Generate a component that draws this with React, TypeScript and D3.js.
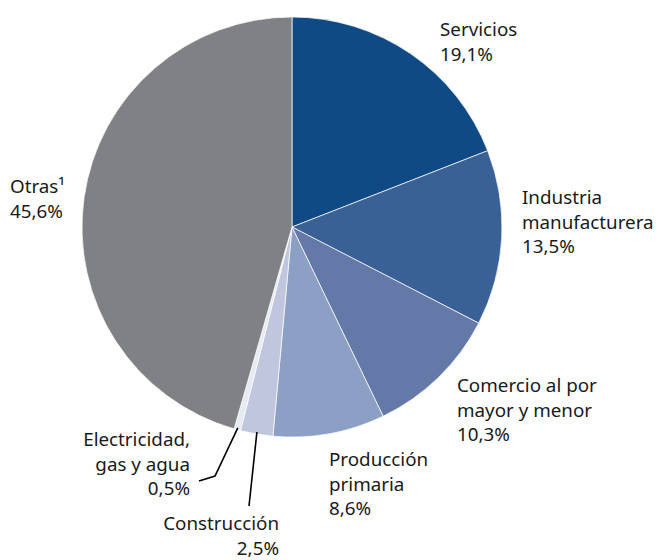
import React from "react";
import * as d3 from "d3";

// shares of total, clockwise from 12 o'clock
const sectors = [
  "Servicios",
  "Industria manufacturera",
  "Comercio al por mayor y menor",
  "Producción primaria",
  "Construcción",
  "Electricidad, gas y agua",
  "Otras",
];
const shares = [19.1, 13.5, 10.3, 8.6, 2.5, 0.5, 45.6];
const colors = ["#0f4a85", "#3a6195", "#6479a8", "#8c9fc4", "#c0c6de", "#e6eaf3", "#808184"];

// label lines (text), anchor, position
const labelLines = [
  ["Servicios", "19,1%"],
  ["Industria", "manufacturera", "13,5%"],
  ["Comercio al por", "mayor y menor", "10,3%"],
  ["Producción", "primaria", "8,6%"],
  ["Construcción", "2,5%"],
  ["Electricidad,", "gas y agua", "0,5%"],
  ["Otras\u00b9", "45,6%"],
];
const labelX = [440, 522, 457, 329, 279, 190, 10];
const labelY = [36, 204, 392, 466, 530, 446, 193];
const labelAnchor = ["start", "start", "start", "start", "end", "end", "start"];

const W = 657;
const H = 560;
const cx = 292;
const cy = 227;
const r = 210;

export default function App() {
  const pie = d3
    .pie<number>()
    .sort(null)
    .value((d) => d);
  const arcs = pie(shares);
  const arc = d3.arc<d3.PieArcDatum<number>>().innerRadius(0).outerRadius(r);

  const edge = (a: d3.PieArcDatum<number>, rad: number) => {
    const m = (a.startAngle + a.endAngle) / 2;
    return [Math.sin(m) * rad, -Math.cos(m) * rad];
  };

  // leader lines for the two thin slices
  const cs = edge(arcs[4], r - 2);
  const es = edge(arcs[5], r - 2);
  const constrLine = [cs, [249 - cx, 506 - cy]];
  const elecLine = [es, [215 - cx, 476 - cy], [199 - cx, 481 - cy]];
  const line = d3.line();

  return (
    <svg
      width={W}
      height={H}
      style={{ position: "absolute", left: 0, top: 0, fontFamily: "'Noto Sans', sans-serif" }}
    >
      <g transform={`translate(${cx},${cy})`}>
        {arcs.map((a, i) => (
          <path key={i} d={arc(a) || ""} fill={colors[i]} stroke="#fff" strokeWidth={0.7} />
        ))}
        <path d={line(constrLine as [number, number][]) || ""} fill="none" stroke="#000" strokeWidth={1.6} />
        <path d={line(elecLine as [number, number][]) || ""} fill="none" stroke="#000" strokeWidth={1.6} />
      </g>
      {labelLines.map((lines, i) => (
        <text key={i} x={labelX[i]} y={labelY[i]} textAnchor={labelAnchor[i]} fontSize={18.8} fill="#1a1a1a">
          {lines.map((t, j) => (
            <tspan key={j} x={labelX[i]} dy={j === 0 ? 0 : 24.5}>
              {t}
            </tspan>
          ))}
        </text>
      ))}
    </svg>
  );
}
